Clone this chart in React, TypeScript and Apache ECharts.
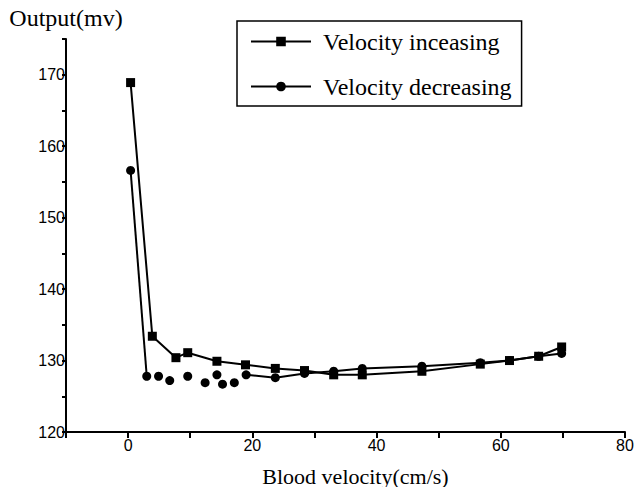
import React, { useEffect, useRef } from "react";
import * as echarts from "echarts";

// Velocity increasing (squares)
const incX = [0.4, 3.9, 7.7, 9.6, 14.3, 18.9, 23.7, 28.4, 33.1, 37.7, 47.3, 56.7, 61.4, 66.1, 69.8];
const incY = [168.9, 133.4, 130.4, 131.1, 129.9, 129.4, 128.9, 128.6, 128.0, 128.0, 128.5, 129.5, 130.0, 130.6, 131.9];

// Velocity decreasing (circles), first connected segment
const decAX = [0.4, 3.0];
const decAY = [156.6, 127.8];
// Velocity decreasing, second connected segment
const decBX = [19.0, 23.7, 28.4, 33.1, 37.7, 47.3, 56.7, 61.4, 66.1, 69.8];
const decBY = [128.0, 127.6, 128.2, 128.5, 128.9, 129.2, 129.7, 130.0, 130.6, 131.0];
// Velocity decreasing, unconnected points
const decLooseX = [4.9, 6.7, 9.6, 12.4, 14.3, 15.2, 17.1];
const decLooseY = [127.8, 127.2, 127.8, 126.9, 128.0, 126.7, 126.9];

const seriesNames = ["Velocity inceasing", "Velocity decreasing"];
const xTicks = [0, 20, 40, 60, 80];
const yTicks = [120, 130, 140, 150, 160, 170];

const zip = (xs: number[], ys: number[]) => xs.map((x, i) => [x, ys[i]]);

const SERIF = "Liberation Serif, Times New Roman, serif";
const SANS = "Liberation Sans, Arial, sans-serif";

export default function App() {
  const ref = useRef<HTMLDivElement>(null);
  useEffect(() => {
    if (!ref.current) return;
    const chart = echarts.init(ref.current, null, { renderer: "svg" });
    chart.setOption({
      animation: false,
      grid: { left: 66, right: 17, top: 39, bottom: 63 },
      legend: {
        data: seriesNames,
        orient: "vertical",
        left: 237,
        top: 21,
        padding: [8, 10, 7, 13],
        itemGap: 20,
        itemWidth: 60,
        itemHeight: 12,
        borderColor: "black",
        borderWidth: 1.5,
        textStyle: {
          fontFamily: SERIF,
          fontSize: 24,
          color: "black",
          lineHeight: 25,
          padding: [0, 0, 0, 7],
        },
      },
      xAxis: {
        type: "value",
        min: -10,
        max: 80,
        interval: 10,
        z: 10,
        name: "Blood velocity(cm/s)",
        nameLocation: "middle",
        nameGap: 44,
        nameTextStyle: {
          fontFamily: SERIF,
          fontSize: 22,
          color: "black",
          verticalAlign: "middle",
          padding: [0, 0, 0, 20],
        },
        splitLine: { show: false },
        axisLine: { show: true, onZero: false, lineStyle: { color: "black", width: 2 } },
        axisTick: { show: true, length: 6, lineStyle: { color: "black", width: 2 } },
        axisLabel: {
          fontFamily: SANS,
          fontSize: 16,
          color: "black",
          margin: 5,
          formatter: (v: number) => (xTicks.includes(v) ? String(v) : ""),
        },
      },
      yAxis: {
        type: "value",
        min: 120,
        max: 175,
        interval: 5,
        z: 10,
        name: "Output(mv)",
        nameLocation: "end",
        nameGap: 21,
        nameTextStyle: {
          fontFamily: SERIF,
          fontSize: 24,
          color: "black",
          align: "center",
          verticalAlign: "middle",
        },
        splitLine: { show: false },
        axisLine: { show: true, onZero: false, lineStyle: { color: "black", width: 2 } },
        axisTick: { show: true, length: 4, lineStyle: { color: "black", width: 2 } },
        axisLabel: {
          fontFamily: SANS,
          fontSize: 16,
          color: "black",
          margin: 1,
          formatter: (v: number) => (yTicks.includes(v) ? String(v) : ""),
        },
      },
      series: [
        {
          type: "line",
          name: seriesNames[0],
          symbol: "rect",
          symbolSize: 9,
          lineStyle: { color: "black", width: 2 },
          itemStyle: { color: "black" },
          data: zip(incX, incY),
        },
        {
          type: "line",
          name: seriesNames[1],
          symbol: "circle",
          symbolSize: 9,
          lineStyle: { color: "black", width: 2 },
          itemStyle: { color: "black" },
          data: zip(decAX, decAY),
        },
        {
          type: "line",
          name: seriesNames[1],
          symbol: "circle",
          symbolSize: 9,
          lineStyle: { color: "black", width: 2 },
          itemStyle: { color: "black" },
          data: zip(decBX, decBY),
        },
        {
          type: "scatter",
          name: seriesNames[1],
          symbol: "circle",
          symbolSize: 9,
          itemStyle: { color: "black", opacity: 1 },
          data: zip(decLooseX, decLooseY),
        },
      ],
    });
    return () => chart.dispose();
  }, []);
  return <div ref={ref} style={{ width: 642, height: 495, margin: -8 }} />;
}
